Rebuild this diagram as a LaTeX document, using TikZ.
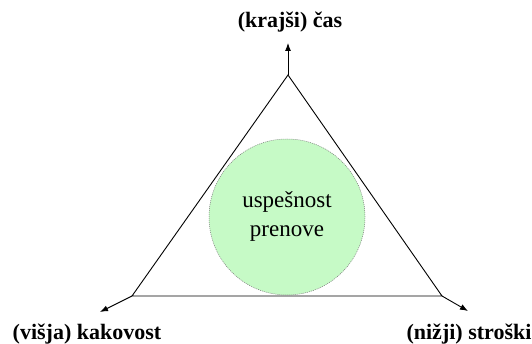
\documentclass[tikz,border=0pt]{standalone}
\usepackage{fontspec}
\setmainfont{Liberation Serif}
\usetikzlibrary{arrows.meta}
\definecolor{circfill}{RGB}{198,250,198}
\definecolor{circline}{RGB}{120,120,120}
\begin{document}
\begin{tikzpicture}[x=1pt,y=1pt,
  edge/.style={line width=0.9pt,black},
  arr/.style={line width=0.9pt,-{Latex[length=8pt,width=6pt]}},
  lbl/.style={font=\fontsize{22}{26}\selectfont\bfseries,inner sep=0pt,anchor=base}]
\useasboundingbox (0,0) rectangle (532,-344);
\coordinate (A) at (288,-75);
\coordinate (BL) at (132,-296);
\coordinate (BR) at (442,-296);
\coordinate (TA) at (288,-43);
\coordinate (TL) at (100,-312);
\coordinate (TR) at (468,-311);
\node[circle,minimum size=156pt,inner sep=0pt,fill=circfill,draw=circline,dashed,dash pattern=on 1pt off 1pt,line width=0.5pt] (C) at (287,-217) {};
\draw[edge,line join=miter] (A) -- (BL) -- (BR) -- cycle;
\draw[arr] (A) -- (TA);
\draw[arr] (BL) -- (TL);
\draw[arr] (BR) -- (TR);
\node[lbl] (lt) at (290,-28) {(krajši) čas};
\node[lbl] (ll) at (87,-339) {(višja) kakovost};
\node[lbl] (lr) at (469,-339) {(nižji) stroški};
\node[font=\fontsize{23}{29}\selectfont,inner sep=0pt,anchor=base] (t1) at (287,-208) {uspešnost};
\node[font=\fontsize{23}{29}\selectfont,inner sep=0pt,anchor=base] (t2) at (287,-237) {prenove};
\end{tikzpicture}
\end{document}
